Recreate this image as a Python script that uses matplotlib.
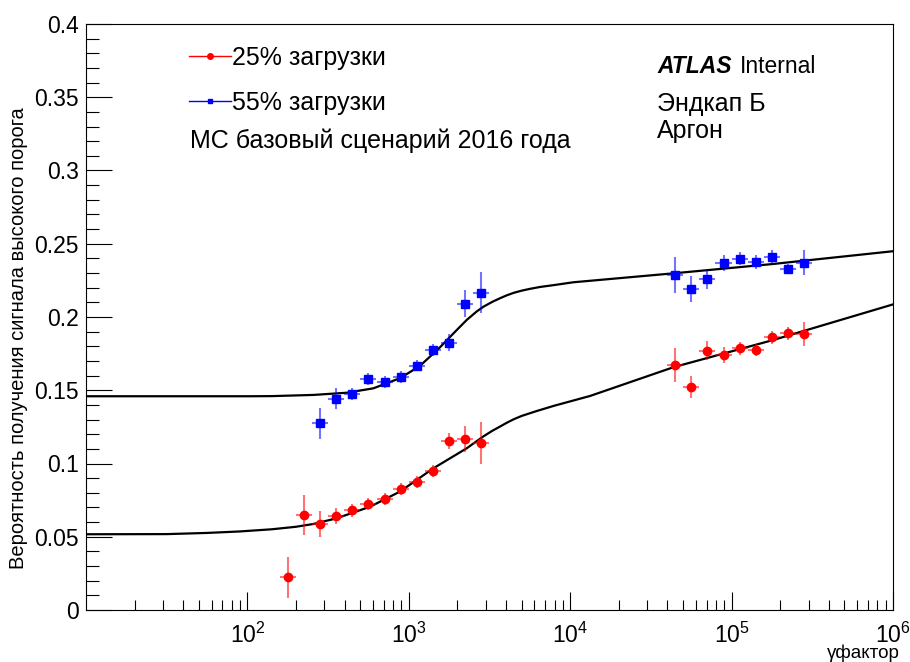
import numpy as np
import matplotlib
matplotlib.use('Agg')
import matplotlib.pyplot as plt
from matplotlib.ticker import FixedLocator, LogLocator, FuncFormatter, MultipleLocator, NullFormatter
from matplotlib.lines import Line2D

plt.rcParams['font.family'] = ['Liberation Sans', 'DejaVu Sans']
plt.rcParams['mathtext.fontset'] = 'custom'
plt.rcParams['mathtext.rm'] = 'Liberation Sans'
plt.rcParams['mathtext.default'] = 'regular'

# gamma-factor bin centres (0.1 decade bins)
gamma_25 = [178, 224, 282, 355, 447, 562, 708, 891, 1122, 1413, 1778, 2239, 2818,
            44668, 56234, 70795, 89125, 112202, 141254, 177828, 223872, 281838]
prob_25 = [0.0225, 0.0646, 0.0587, 0.0644, 0.0681, 0.0722, 0.0756, 0.0826, 0.0874,
           0.0951, 0.1154, 0.1165, 0.1138, 0.1672, 0.1524, 0.1770, 0.1741, 0.1786,
           0.1775, 0.1861, 0.1889, 0.1884]
err_25 = [0.014, 0.0136, 0.0088, 0.0054, 0.0045, 0.004, 0.004, 0.004, 0.004, 0.004,
          0.0055, 0.0089, 0.0144, 0.0116, 0.0075, 0.0063, 0.0055, 0.0045, 0.004,
          0.0045, 0.0045, 0.0085]

gamma_55 = [282, 355, 447, 562, 708, 891, 1122, 1413, 1778, 2239, 2818,
            44668, 56234, 70795, 89125, 112202, 141254, 177828, 223872, 281838]
prob_55 = [0.1274, 0.1442, 0.1472, 0.1577, 0.1556, 0.1592, 0.1668, 0.1777, 0.1825,
           0.2089, 0.2166, 0.2287, 0.2191, 0.2257, 0.2371, 0.2398, 0.2373, 0.2410,
           0.2330, 0.2371]
err_55 = [0.0105, 0.007, 0.004, 0.004, 0.004, 0.004, 0.004, 0.004, 0.0057, 0.0092,
          0.0139, 0.012, 0.0088, 0.0064, 0.0055, 0.0045, 0.0048, 0.0045, 0.0035, 0.0085]

bin_half_width = 0.05  # decades

# fitted curves (log10 gamma, probability)
fit25_log = [1.0, 1.5, 1.748, 1.95, 2.151, 2.3, 2.408, 2.553, 2.760, 2.945, 3.152, 3.359,
             3.462, 3.52, 3.565, 3.607, 3.65, 3.70, 3.792, 3.9, 4.123, 4.639, 5.258, 6.0]
fit25_val = [0.0517, 0.0518, 0.0526, 0.0536, 0.0551, 0.0568, 0.0587, 0.0626, 0.0705,
             0.0808, 0.0967, 0.1104, 0.1185, 0.1225, 0.1252, 0.1278, 0.1302, 0.1325,
             0.1358, 0.1394, 0.1461, 0.1657, 0.1843, 0.2086]
fit55_log = [1.0, 2.0, 2.151, 2.408, 2.615, 2.780, 2.945, 3.069, 3.193, 3.297, 3.359,
             3.421, 3.462, 3.52, 3.565, 3.607, 3.65, 3.70, 3.75, 3.813, 3.9, 4.019,
             4.639, 5.258, 6.0]
fit55_val = [0.1459, 0.1459, 0.1460, 0.1468, 0.1483, 0.1513, 0.1582, 0.1666, 0.1793,
             0.1911, 0.1980, 0.2038, 0.2070, 0.2105, 0.2128, 0.2148, 0.2165, 0.2180,
             0.2192, 0.2205, 0.2218, 0.2237, 0.2298, 0.2362, 0.2449]

fig = plt.figure(figsize=(9.1, 6.62), dpi=100)
ax = fig.add_axes([86 / 910, 1 - 610 / 662, 807 / 910, 586 / 662])


def xerr(g):
    g = np.asarray(g, dtype=float)
    return [g - g / 10 ** bin_half_width, g * 10 ** bin_half_width - g]


ax.plot(10 ** np.array(fit25_log), fit25_val, color='black', lw=1.6, zorder=3)
ax.plot(10 ** np.array(fit55_log), fit55_val, color='black', lw=1.6, zorder=3)

ax.errorbar(gamma_25, prob_25, yerr=err_25, xerr=xerr(gamma_25), fmt='o', color='#ff0000',
            ms=6, ecolor=(1, 0, 0, 0.55), elinewidth=1.5, capsize=0, zorder=4)
ax.errorbar(gamma_55, prob_55, yerr=err_55, xerr=xerr(gamma_55), fmt='s', color='#0000ff',
            ms=5.5, ecolor=(0, 0, 1, 0.55), elinewidth=1.5, capsize=0, zorder=4)

ax.set_xscale('log')
ax.set_xlim(10, 1e6)
ax.set_ylim(0, 0.4)
ax.xaxis.set_major_locator(FixedLocator([1e2, 1e3, 1e4, 1e5, 1e6]))
ax.xaxis.set_major_formatter(FuncFormatter(lambda v, p: r'$10^{%d}$' % round(np.log10(v))))
ax.xaxis.set_minor_locator(LogLocator(base=10, subs=np.arange(2, 10), numticks=20))
ax.xaxis.set_minor_formatter(NullFormatter())
ax.yaxis.set_major_locator(MultipleLocator(0.05))
ax.yaxis.set_minor_locator(MultipleLocator(0.01))
ax.yaxis.set_major_formatter(FuncFormatter(lambda v, p: '%g' % round(v, 3)))

ax.tick_params(axis='x', which='major', direction='in', length=13, width=0.8,
               labelsize=16.5, pad=9, top=False)
ax.tick_params(axis='x', which='minor', direction='in', length=7, width=0.8, top=False)
ax.tick_params(axis='y', which='major', direction='in', length=19, width=0.8,
               labelsize=16.5, pad=5, right=False)
ax.tick_params(axis='y', which='minor', direction='in', length=9.5, width=0.8, right=False)
for s in ax.spines.values():
    s.set_linewidth(0.8)

ax.set_ylabel('Вероятность получения сигнала высокого порога', fontsize=14.5)
ax.yaxis.set_label_coords(-0.072, 0.464)
fig.text(900 / 910, 0.0, 'γфактор', fontsize=13.5, ha='right', va='bottom')

handles = [Line2D([], [], color='#ff0000', marker='o', ms=4, lw=1),
           Line2D([], [], color='#0000ff', marker='s', ms=3.5, lw=1)]
ax.legend(handles, ['25% загрузки', '55% загрузки'], loc='upper left',
          bbox_to_anchor=(0.128, 0.963), frameon=False, fontsize=18,
          handlelength=1.65, handletextpad=0.05, labelspacing=0.85, borderpad=0,
          borderaxespad=0)
ax.text(0.129, 0.800, 'МС базовый сценарий 2016 года', transform=ax.transAxes,
        fontsize=18, va='center', ha='left')

atl = ax.text(0.7076, 0.927, 'ATLAS', transform=ax.transAxes, fontsize=16.5,
              fontweight='bold', fontstyle='italic', va='center', ha='left')
ax.annotate('Internal', xy=(1, 0), xycoords=atl, xytext=(6, 0),
            textcoords='offset points', fontsize=16.5, va='bottom', ha='left')
ax.text(0.7076, 0.864, 'Эндкап Б', transform=ax.transAxes, fontsize=18,
        va='center', ha='left')
ax.text(0.7076, 0.818, 'Аргон', transform=ax.transAxes, fontsize=18,
        va='center', ha='left')

fig.savefig('out.png', dpi=100)
